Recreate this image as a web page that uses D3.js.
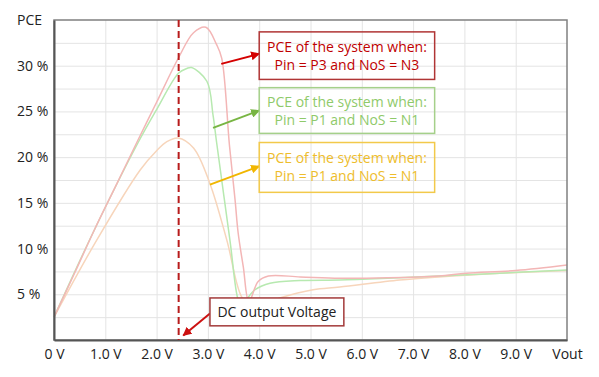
<!DOCTYPE html>
<html>
<head>
<meta charset="utf-8">
<script src="https://cdn.jsdelivr.net/npm/d3@7"></script>
<style>
  body { margin: 0; background: #fff; }
  svg { display: block; font-family: "Open Sans", sans-serif; }
</style>
</head>
<body>
<div class="container"></div>
<script>
// values: [Vout in V, PCE in %]
var pceP3N3 = [[0, 2.5], [0.4, 7.3], [0.8, 12.2], [1.2, 16.8], [1.64, 21.9], [2.0, 26.0], [2.43, 30.9],
    [2.72, 33.6], [2.96, 34.2], [3.17, 32.3], [3.27, 30.8], [3.42, 21.3], [3.53, 15.3], [3.59, 11.7],
    [3.69, 8.0], [3.8, 4.2], [3.98, 6.4], [4.18, 7.0], [4.8, 6.9], [5.57, 6.75], [6.5, 6.8],
    [7.5, 7.0], [8.04, 7.3], [9.0, 7.6], [10, 8.2]];
var pceP1N1 = [[0, 2.5], [0.8, 12.2], [1.64, 21.6], [2.0, 25.2], [2.43, 29.2], [2.59, 29.7], [2.68, 29.8],
    [2.98, 28.3], [3.1, 24.6], [3.17, 21.6], [3.43, 10.9], [3.59, 4.4], [3.65, 3.9], [3.92, 5.5],
    [4.21, 6.2], [4.8, 6.5], [5.57, 6.56], [6.5, 6.75], [7.5, 7.0], [8.5, 7.25], [10, 7.66]];
var pceP1N1b = [[0, 2.5], [0.83, 10.9], [1.68, 18.6], [2.0, 20.7], [2.2, 21.7], [2.42, 22.1], [2.72, 21.0],
    [3.04, 17.1], [3.37, 10.9], [3.66, 4.7], [3.85, 3.7], [4.1, 4.0], [4.4, 4.6], [5.05, 5.5],
    [5.57, 5.8], [6.74, 6.56], [7.5, 6.9], [8.5, 7.25], [10, 7.6]];

var xTicks = [0, 1, 2, 3, 4, 5, 6, 7, 8, 9, 10];
var xLabels = ['0 V', '1.0 V', '2.0 V', '3.0 V', '4.0 V', '5.0 V', '6.0 V', '7.0 V', '8.0 V', '9.0 V', 'Vout'];
var yTicks = [5, 10, 15, 20, 25, 30, 35];
var yLabels = ['5 %', '10 %', '15 %', '20 %', '25 %', '30 %', 'PCE'];
var yGrid = [2.5, 5, 7.5, 10, 12.5, 15, 17.5, 20, 22.5, 25, 27.5, 30, 32.5];
var dcVoltage = 2.43;

var notes = [
    {lines: ['PCE of the system when:', 'Pin = P3 and NoS = N3'], from: [3.26, 30.2], to: [4.0, 31.3],
     box: [4.0, 33.7, 7.42, 28.5], text: '#c00000', border: '#b03535', arrow: '#d40000'},
    {lines: ['PCE of the system when:', 'Pin = P1 and NoS = N1'], from: [3.1, 23.2], to: [4.0, 25.1],
     box: [4.0, 27.6, 7.42, 22.6], text: '#8fca6a', border: '#a5d08a', arrow: '#78b543'},
    {lines: ['PCE of the system when:', 'Pin = P1 and NoS = N1'], from: [3.04, 17.0], to: [4.0, 19.0],
     box: [4.0, 21.6, 7.42, 16.15], text: '#eebd2c', border: '#f2c94a', arrow: '#f1b600'}
];

var W = 599, H = 377;
var margin = {left: 54, right: 32, top: 20, bottom: 37};
var iw = W - margin.left - margin.right, ih = H - margin.top - margin.bottom;

var x = d3.scaleLinear().domain([0, 10]).range([0, iw]);
var y = d3.scaleLinear().domain([0, 35]).range([ih, 0]);

var svg = d3.select('.container').append('svg').attr('width', W).attr('height', H);
var defs = svg.append('defs');
var g = svg.append('g').attr('transform', `translate(${margin.left},${margin.top})`);

// grid
g.append('g').attr('class', 'grid')
    .call(d3.axisBottom(x).tickValues(xTicks.slice(1, -1)).tickSize(ih).tickFormat(''))
    .call(s => s.select('.domain').remove())
    .selectAll('line').attr('stroke', '#e4e4e4');
g.append('g').attr('class', 'grid')
    .call(d3.axisLeft(y).tickValues(yGrid).tickSize(-iw).tickFormat(''))
    .call(s => s.select('.domain').remove())
    .selectAll('line').attr('stroke', '#e4e4e4');

// curves
var line = d3.line().x(d => x(d[0])).y(d => y(d[1])).curve(d3.curveCatmullRom.alpha(0.5));
[[pceP1N1b, '#f7d5bb'], [pceP1N1, '#b7e9b0'], [pceP3N3, '#f3b6b6']].forEach(([data, color]) => {
    g.append('path').datum(data).attr('d', line)
        .attr('fill', 'none').attr('stroke', color).attr('stroke-width', 1.5);
});

// frame
g.append('rect').attr('width', iw).attr('height', ih)
    .attr('fill', 'none').attr('stroke', '#808080').attr('stroke-width', 1.5);

// axes
var xAxis = g.append('g').attr('transform', `translate(0,${ih})`)
    .call(d3.axisBottom(x).tickValues(xTicks).tickSize(0).tickFormat((d, i) => xLabels[i]));
xAxis.select('.domain').attr('stroke', '#555').attr('stroke-width', 2);
xAxis.selectAll('text').attr('y', 19).attr('dy', 0).attr('font-size', 14).attr('fill', '#222')
    .attr('font-family', '"Open Sans", sans-serif');

var yAxis = g.append('g')
    .call(d3.axisLeft(y).tickValues(yTicks).tickSize(0).tickFormat((d, i) => yLabels[i]));
yAxis.select('.domain').attr('stroke', '#555').attr('stroke-width', 2);
yAxis.selectAll('text').attr('x', 17 - margin.left).attr('text-anchor', 'start')
    .attr('font-size', 14).attr('fill', '#222').attr('font-family', '"Open Sans", sans-serif');

// dashed DC output voltage line
g.append('line')
    .attr('x1', x(dcVoltage)).attr('x2', x(dcVoltage)).attr('y1', 0).attr('y2', ih)
    .attr('stroke', '#b81c1c').attr('stroke-width', 2).attr('stroke-dasharray', '7,4');

var marker = (id, color) => {
    defs.append('marker').attr('id', id)
        .attr('viewBox', '0 0 10 10').attr('refX', 9).attr('refY', 5)
        .attr('markerWidth', 4.5).attr('markerHeight', 4.5).attr('orient', 'auto')
        .append('path').attr('d', 'M0,0L10,5L0,10z').attr('fill', color);
    return `url(#${id})`;
};

// annotation boxes with arrows
notes.forEach((n, i) => {
    var [x0, y0, x1, y1] = n.box;
    g.append('line')
        .attr('x1', x(n.from[0])).attr('y1', y(n.from[1]))
        .attr('x2', x(n.to[0])).attr('y2', y(n.to[1]))
        .attr('stroke', n.arrow).attr('stroke-width', 2)
        .attr('marker-end', marker('arr' + i, n.arrow));
    g.append('rect')
        .attr('x', x(x0)).attr('y', y(y0))
        .attr('width', x(x1) - x(x0)).attr('height', y(y1) - y(y0))
        .attr('fill', 'none').attr('stroke', n.border).attr('stroke-width', 1.5);
    var cx = (x(x0) + x(x1)) / 2, cy = (y(y0) + y(y1)) / 2;
    g.append('text').attr('x', cx).attr('y', cy - 4)
        .attr('text-anchor', 'middle').attr('font-size', 14).attr('fill', n.text)
        .text(n.lines[0]);
    g.append('text').attr('x', cx).attr('y', cy + 14)
        .attr('text-anchor', 'middle').attr('font-size', 14).attr('fill', n.text)
        .text(n.lines[1]);
});

// DC output voltage label
var dcBox = [3.04, 4.6, 5.65, 1.55];
g.append('line')
    .attr('x1', x(dcBox[0])).attr('y1', y(2.9))
    .attr('x2', x(2.52)).attr('y2', y(0.5))
    .attr('stroke', '#cc1111').attr('stroke-width', 2)
    .attr('marker-end', marker('arrDC', '#cc1111'));
g.append('rect')
    .attr('x', x(dcBox[0])).attr('y', y(dcBox[1]))
    .attr('width', x(dcBox[2]) - x(dcBox[0])).attr('height', y(dcBox[3]) - y(dcBox[1]))
    .attr('fill', '#fff').attr('stroke', '#a33a3a').attr('stroke-width', 1.5);
g.append('text')
    .attr('x', (x(dcBox[0]) + x(dcBox[2])) / 2).attr('y', (y(dcBox[1]) + y(dcBox[3])) / 2 + 5)
    .attr('text-anchor', 'middle').attr('font-size', 14).attr('fill', '#222')
    .text('DC output Voltage');
</script>
</body>
</html>
